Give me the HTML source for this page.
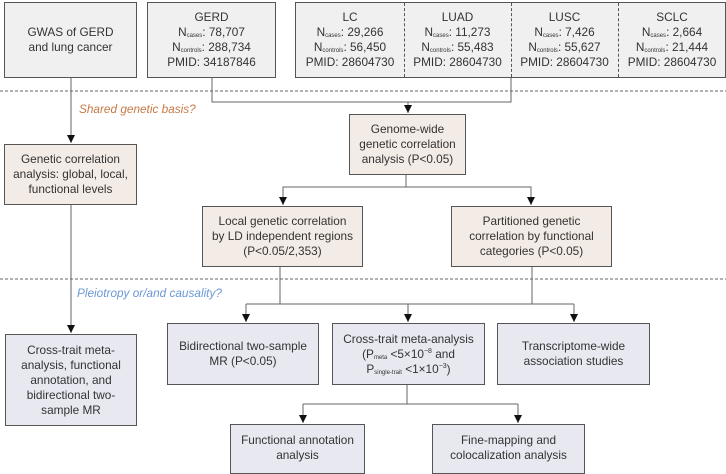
<!DOCTYPE html>
<html><head><meta charset="utf-8"><style>
body{margin:0;width:726px;height:471px;background:#fff;position:relative;overflow:hidden;font-family:"Liberation Sans",Arial,sans-serif;color:#333;}
.b{position:absolute;box-sizing:border-box;border:1.3px solid #555;display:flex;align-items:center;justify-content:center;text-align:center;font-size:11.8px;line-height:15px;}
.g{background:#f0f0f0}.t{background:#f3ebe5}.p{background:#e7e8f0}
sub{font-size:6px;vertical-align:-1px;line-height:0}
sup{font-size:7px;line-height:0}
.c{position:absolute;top:0;bottom:0;display:flex;align-items:center;justify-content:center;text-align:center;}
svg{position:absolute;left:0;top:0}
.lbl{position:absolute;font-style:italic;font-size:11.8px;}
</style></head><body>
<svg width="726" height="471">
<defs><marker id="a" markerWidth="8" markerHeight="8" refX="8" refY="4" orient="auto" markerUnits="userSpaceOnUse"><path d="M0,0 L8,4 L0,8 Z" fill="#111"/></marker></defs>
<g stroke="#666" stroke-width="1" fill="none">
<line x1="0" y1="91" x2="726" y2="91" stroke-dasharray="3,2"/>
<line x1="0" y1="279" x2="726" y2="279" stroke-dasharray="3,2"/>
<line x1="71" y1="78" x2="71" y2="143" marker-end="url(#a)"/>
<line x1="71" y1="205" x2="71" y2="333" marker-end="url(#a)"/>
<polyline points="212,78 212,102 511,102 511,78"/>
<line x1="408" y1="102" x2="408" y2="113" marker-end="url(#a)"/>
<line x1="406" y1="175" x2="406" y2="187"/>
<polyline points="283,205 283,187 531,187 531,205"/>
<line x1="283" y1="196" x2="283" y2="205" marker-end="url(#a)"/>
<line x1="531" y1="196" x2="531" y2="205" marker-end="url(#a)"/>
<line x1="280" y1="267" x2="280" y2="304"/>
<line x1="532" y1="267" x2="532" y2="304"/>
<line x1="246" y1="304" x2="574" y2="304"/>
<line x1="246" y1="304" x2="246" y2="322" marker-end="url(#a)"/>
<line x1="408" y1="304" x2="408" y2="322" marker-end="url(#a)"/>
<line x1="574" y1="304" x2="574" y2="322" marker-end="url(#a)"/>
<line x1="407" y1="385" x2="407" y2="404"/>
<line x1="303" y1="404" x2="518" y2="404"/>
<line x1="303" y1="404" x2="303" y2="423" marker-end="url(#a)"/>
<line x1="518" y1="404" x2="518" y2="423" marker-end="url(#a)"/>
</g></svg>
<div class="b g" style="left:4px;top:2px;width:133px;height:76px"><div>GWAS of GERD<br>and lung cancer</div></div>
<div class="b g" style="left:147px;top:2px;width:129px;height:76px"><div>GERD<br>N<sub>cases</sub>: 78,707<br>N<sub>controls</sub>: 288,734<br>PMID: 34187846</div></div>
<div class="b g" style="left:295px;top:2px;width:431px;height:76px;display:block">
<div class="c" style="left:0;width:108px;border-right:1px dashed #555"><div>LC<br>N<sub>cases</sub>: 29,266<br>N<sub>controls</sub>: 56,450<br>PMID: 28604730</div></div>
<div class="c" style="left:108px;width:107px;border-right:1px dashed #555"><div>LUAD<br>N<sub>cases</sub>: 11,273<br>N<sub>controls</sub>: 55,483<br>PMID: 28604730</div></div>
<div class="c" style="left:215px;width:107px;border-right:1px dashed #555"><div>LUSC<br>N<sub>cases</sub>: 7,426<br>N<sub>controls</sub>: 55,627<br>PMID: 28604730</div></div>
<div class="c" style="left:323px;width:106px"><div>SCLC<br>N<sub>cases</sub>: 2,664<br>N<sub>controls</sub>: 21,444<br>PMID: 28604730</div></div>
</div>
<div class="lbl" style="left:79px;top:102px;color:#c87a45">Shared genetic basis?</div>
<div class="b t" style="left:4px;top:144px;width:133px;height:61px"><div>Genetic correlation<br>analysis: global, local,<br>functional levels</div></div>
<div class="b t" style="left:349px;top:114px;width:117px;height:61px"><div>Genome-wide<br>genetic correlation<br>analysis (P&lt;0.05)</div></div>
<div class="b t" style="left:202px;top:206px;width:161px;height:61px"><div>Local genetic correlation<br>by LD independent regions<br>(P&lt;0.05/2,353)</div></div>
<div class="b t" style="left:451px;top:206px;width:161px;height:61px"><div>Partitioned genetic<br>correlation by functional<br>categories (P&lt;0.05)</div></div>
<div class="lbl" style="left:77px;top:286px;color:#6b98d6">Pleiotropy or/and causality?</div>
<div class="b p" style="left:5px;top:334px;width:132px;height:92px"><div>Cross-trait meta-<br>analysis, functional<br>annotation, and<br>bidirectional two-<br>sample MR</div></div>
<div class="b p" style="left:167px;top:323px;width:152px;height:62px"><div>Bidirectional two-sample<br>MR (P&lt;0.05)</div></div>
<div class="b p" style="left:332px;top:323px;width:153px;height:62px"><div>Cross-trait meta-analysis<br>(P<sub>meta</sub> &lt;5×10<sup>−8</sup> and<br>P<sub>single-trait</sub> &lt;1×10<sup>−3</sup>)</div></div>
<div class="b p" style="left:497px;top:323px;width:153px;height:62px"><div>Transcriptome-wide<br>association studies</div></div>
<div class="b p" style="left:230px;top:424px;width:135px;height:50px;align-items:flex-start;padding-top:8px"><div>Functional annotation<br>analysis</div></div>
<div class="b p" style="left:432px;top:424px;width:153px;height:50px;align-items:flex-start;padding-top:8px"><div>Fine-mapping and<br>colocalization analysis</div></div>
</body></html>
